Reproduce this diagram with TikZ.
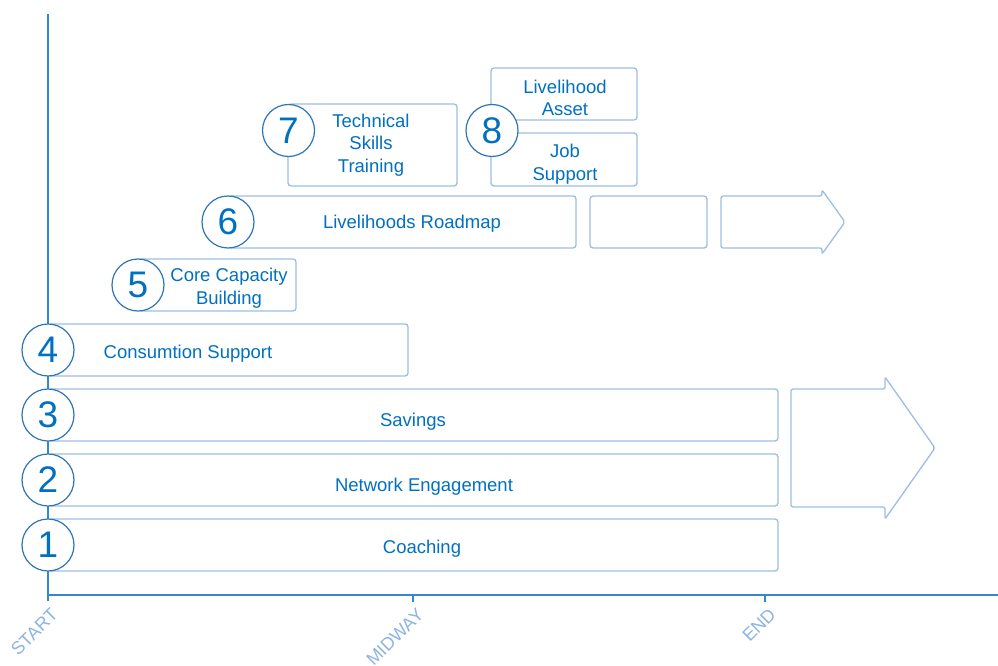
\documentclass[tikz,border=0pt]{standalone}
\usepackage{fontspec}
\setmainfont{Liberation Sans}
\usetikzlibrary{arrows,shapes}
\definecolor{textblue}{RGB}{0,112,192}
\definecolor{ringblue}{RGB}{46,117,182}
\definecolor{boxblue}{RGB}{157,190,228}
\definecolor{axisblue}{RGB}{52,136,207}
\definecolor{tickblue}{RGB}{141,180,226}
\tikzstyle{bar}=[draw=boxblue,line width=1.3pt,rounded corners=3pt,fill=white,inner sep=0pt]
\tikzstyle{number}=[circle,draw=ringblue,fill=white,line width=1.2pt,minimum size=52pt,inner sep=0pt,text=textblue,font=\fontsize{37}{37}\selectfont]
\tikzstyle{bar text}=[text=textblue,align=center,inner sep=0pt,font=\fontsize{18.5}{22.5}\selectfont]
\tikzstyle{phase}=[text=tickblue,rotate=45,anchor=north east,inner sep=0pt,font=\fontsize{18}{18}\selectfont]
\tikzstyle{axis}=[draw=axisblue,line width=1.6pt]
\tikzstyle{big arrow}=[draw=boxblue,line width=1.3pt,rounded corners=2pt,fill=white]

\begin{document}
\begin{tikzpicture}[x=1pt,y=-1pt]
    \useasboundingbox (0,0) rectangle (998,666);
    % First we draw the axes
    \coordinate (top) at (48,14);
    \coordinate (start) at (48,601);
    \coordinate (origin) at (48,595);
    \coordinate (right) at (998,595);
    \coordinate (mid) at (413,595);
    \coordinate (midtick) at (413,602);
    \coordinate (end) at (765,595);
    \coordinate (endtick) at (765,602);
    \path[axis] (top) -- (start);
    \path[axis] (origin) -- (right);
    \path[axis] (mid) -- (midtick);
    \path[axis] (end) -- (endtick);
    \foreach \pos/\name in {{(50,607)/START}, {(416,607)/MIDWAY}, {(768,607)/END}}
        \node[phase] (\name) at \pos {\name};

    % Then the bars
    \foreach \pos/\w/\h/\name in {{(413,545)/730/52/coaching}, {(413,480)/730/52/network},
        {(413,415)/730/52/savings}, {(228,350)/360/52/consumption}, {(217,285)/158/52/capacity},
        {(402,222)/348/52/roadmap}, {(648.5,222)/117/52/blank}, {(372.5,145)/169/82/technical},
        {(564,94)/146/52/asset}, {(564,159.5)/146/53/job}}
        \node[bar,minimum width=\w pt,minimum height=\h pt] (\name) at \pos {};

    % Arrows on the right
    \path[big arrow] (721,196) -- (822,196) -- (822,190) -- (845,222) -- (822,254)
        -- (822,248) -- (721,248) -- cycle;
    \path[big arrow] (791,389) -- (885,389) -- (885,377) -- (935,448) -- (885,519)
        -- (885,507) -- (791,507) -- cycle;

    % Texts of the bars
    \foreach \pos/\name/\txt in {{(422,549)/t1/Coaching}, {(424,487)/t2/Network Engagement},
        {(413,422)/t3/Savings}, {(188,354)/t4/Consumtion Support},
        {(229,288)/t5/Core Capacity\\Building}, {(412,224)/t6/Livelihoods Roadmap},
        {(371,145)/t7/Technical\\Skills\\Training}, {(565,98)/t8a/Livelihood\\Asset},
        {(565,164)/t8b/Job\\Support}}
        \node[bar text] (\name) at \pos {\txt};

    % Numbered circles on top
    \foreach \pos/\name/\num in {{(48,545)/n1/1}, {(48,480)/n2/2}, {(48,415)/n3/3}, {(48,350)/n4/4},
        {(138,285)/n5/5}, {(228,222)/n6/6}, {(288.5,130.5)/n7/7}, {(492,130.5)/n8/8}}
        \node[number] (\name) at \pos {\num};
\end{tikzpicture}
\end{document}
